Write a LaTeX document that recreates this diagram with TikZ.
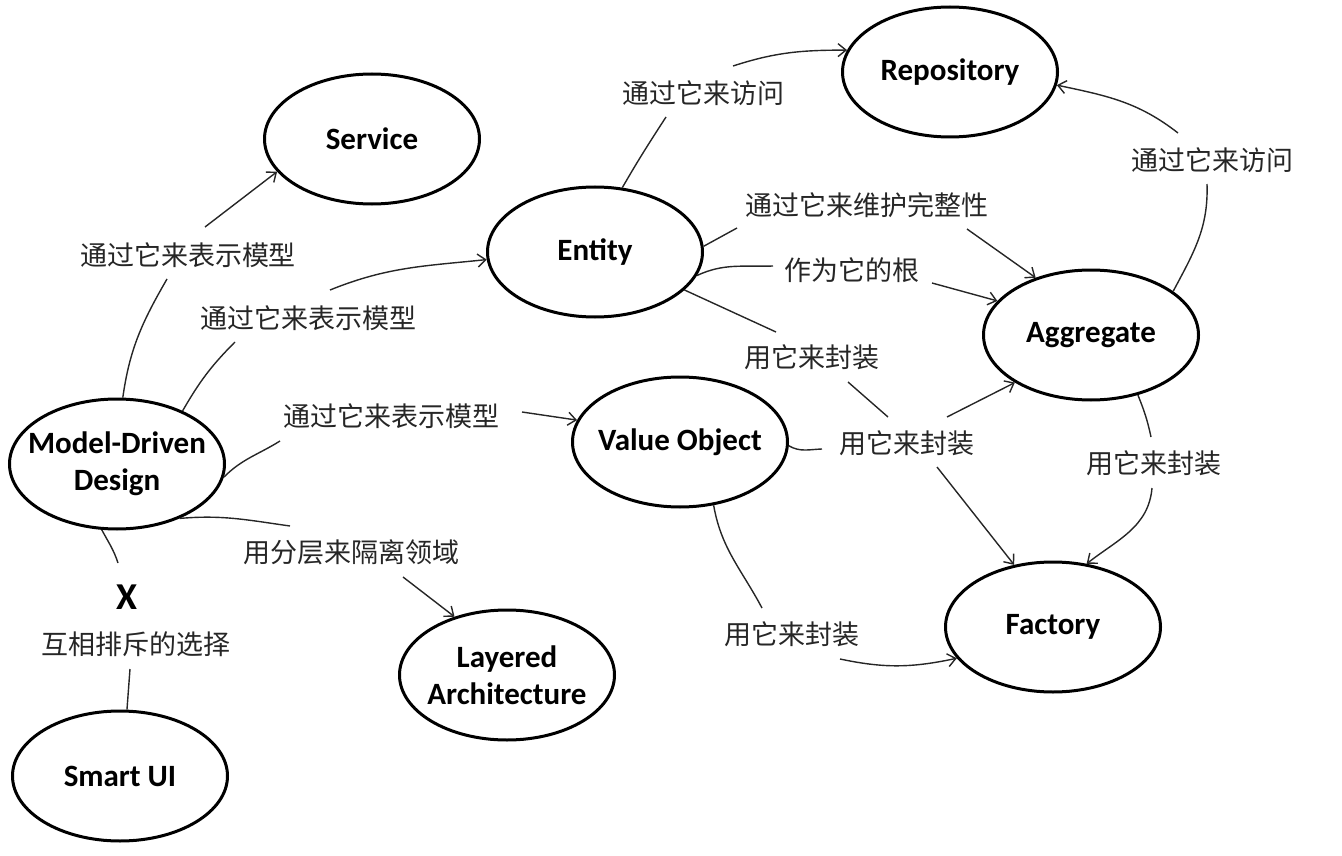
\documentclass[tikz,border=0pt]{standalone}
\usepackage{fontspec}
\setmainfont{Carlito}
\newfontfamily\cjk{Noto Sans CJK SC}
\usetikzlibrary{shapes.geometric,arrows.meta}
\begin{document}
\begin{tikzpicture}[x=1pt,y=-1pt,
  ent/.style={ellipse,draw,line width=3pt,minimum width=215pt,minimum height=130pt,inner sep=0pt},
  ntext/.style={font=\fontsize{31}{37}\selectfont\bfseries,align=center},
  lbl/.style={font=\cjk\fontsize{27}{32}\selectfont,text=black!85,inner sep=2pt},
  con/.style={line width=1.4pt,draw=black!85},
  arr/.style={con,-{Straight Barb[length=8pt,width=13pt]}}
]
\useasboundingbox (0,0) rectangle (1342,856);

% entity ellipses
\node[ent,label={[ntext]center:Model-Driven\\Design}] (mdd) at (117,464) {};
\node[ent,label={[ntext]center:Service}] (service) at (372,139) {};
\node[ent,label={[ntext]center:Entity}] (entity) at (595,252) {};
\node[ent,label={[ntext]center:Repository}] (repo) at (950,72) {};
\node[ent,label={[ntext]center:Aggregate}] (agg) at (1091,335) {};
\node[ent,label={[ntext]center:Value Object}] (vo) at (680,442) {};
\node[ent,label={[ntext]center:Factory}] (factory) at (1053,627) {};
\node[ent,label={[ntext]center:Layered\\Architecture}] (layered) at (507,675) {};
\node[ent,label={[ntext]center:Smart UI}] (smartui) at (120,776) {};

% labels
\node[lbl] (la1) at (188,255) {通过它来表示模型};
\node[lbl] (la2) at (308,318) {通过它来表示模型};
\node[lbl] (la3) at (391,416) {通过它来表示模型};
\node[lbl] (llayer) at (351,552) {用分层来隔离领域};
\node[font=\fontsize{38}{40}\selectfont\bfseries] (xmark) at (127,597) {X};
\node[lbl] (lmutex) at (136,644) {互相排斥的选择};
\node[lbl] (lacc1) at (703,93) {通过它来访问};
\node[lbl] (lacc2) at (1212,160) {通过它来访问};
\node[lbl] (lmaint) at (867,205) {通过它来维护完整性};
\node[lbl] (lroot) at (852,270) {作为它的根};
\node[lbl] (lenc1) at (812,357) {用它来封装};
\node[lbl] (lenc2) at (907,443) {用它来封装};
\node[lbl] (lenc3) at (1154,463) {用它来封装};
\node[lbl] (lenc4) at (792,634) {用它来封装};

% free ends near labels
\coordinate (c1a) at (167,279); \coordinate (c1b) at (205,227);
\coordinate (c2a) at (235,342); \coordinate (c2b) at (330,290);
\coordinate (c3a) at (280,441); \coordinate (c3b) at (522,412);
\coordinate (c4a) at (290,526); \coordinate (c4b) at (403,577);
\coordinate (c5a) at (118,563); \coordinate (c5b) at (130,669);
\coordinate (c6a) at (666,117); \coordinate (c6b) at (733,66);
\coordinate (c7a) at (737,228); \coordinate (c7b) at (967,229);
\coordinate (c8a) at (773,266); \coordinate (c8b) at (932,283);
\coordinate (c9a) at (776,332); \coordinate (c9b) at (848,382);
\coordinate (c9c) at (888,417); \coordinate (c9d) at (937,467);
\coordinate (c10a) at (822,449); \coordinate (c10b) at (947,417);
\coordinate (c11a) at (762,608); \coordinate (c11b) at (840,659);
\coordinate (c12a) at (1207,184); \coordinate (c12b) at (1178,133);
\coordinate (c13a) at (1151,437); \coordinate (c13b) at (1152,488);

% connectors
\draw[con] (mdd.85) to[out=82,in=240] (c1a);
\draw[arr] (c1b) -- (service.199);
\draw[con] (mdd.39) to[out=60,in=225] (c2a);
\draw[arr] (c2b) to[out=22,in=186] (entity.184);
\draw[con] (mdd.-7) to[out=45,in=212] (c3a);
\draw[arr] (c3b) -- (vo.168);
\draw[con] (mdd.-41) to[out=5,in=172] (c4a);
\draw[arr] (c4b) -- (layered.132);
\draw[con] (mdd.257) to[out=-62,in=108] (c5a);
\draw[con] (c5b) -- (smartui.84);
\draw[con] (entity.67) to[out=60,in=237] (c6a);
\draw[arr] (c6b) to[out=18,in=180] (repo.168);
\draw[con] (entity.3) -- (c7a);
\draw[arr] (c7b) -- (agg.134);
\draw[con] (entity.-13) to[out=25,in=182] (c8a);
\draw[arr] (c8b) -- (agg.160);
\draw[con] (entity.-23) -- (c9a);
\draw[con] (c9b) -- (c9c);
\draw[arr] (c9d) -- (factory.122);
\draw[con] (vo.-2) to[out=-30,in=182] (c10a);
\draw[arr] (c10b) -- (agg.212);
\draw[con] (vo.-62) to[out=-80,in=118] (c11a);
\draw[arr] (c11b) to[out=-12,in=192] (factory.198);
\draw[con] (agg.28) to[out=62,in=-88] (c12a);
\draw[arr] (c12b) to[out=142,in=-12] (repo.-7);
\draw[con] (agg.-52) to[out=-68,in=102] (c13a);
\draw[arr] (c13b) to[out=-95,in=38] (factory.62);
\end{tikzpicture}
\end{document}
